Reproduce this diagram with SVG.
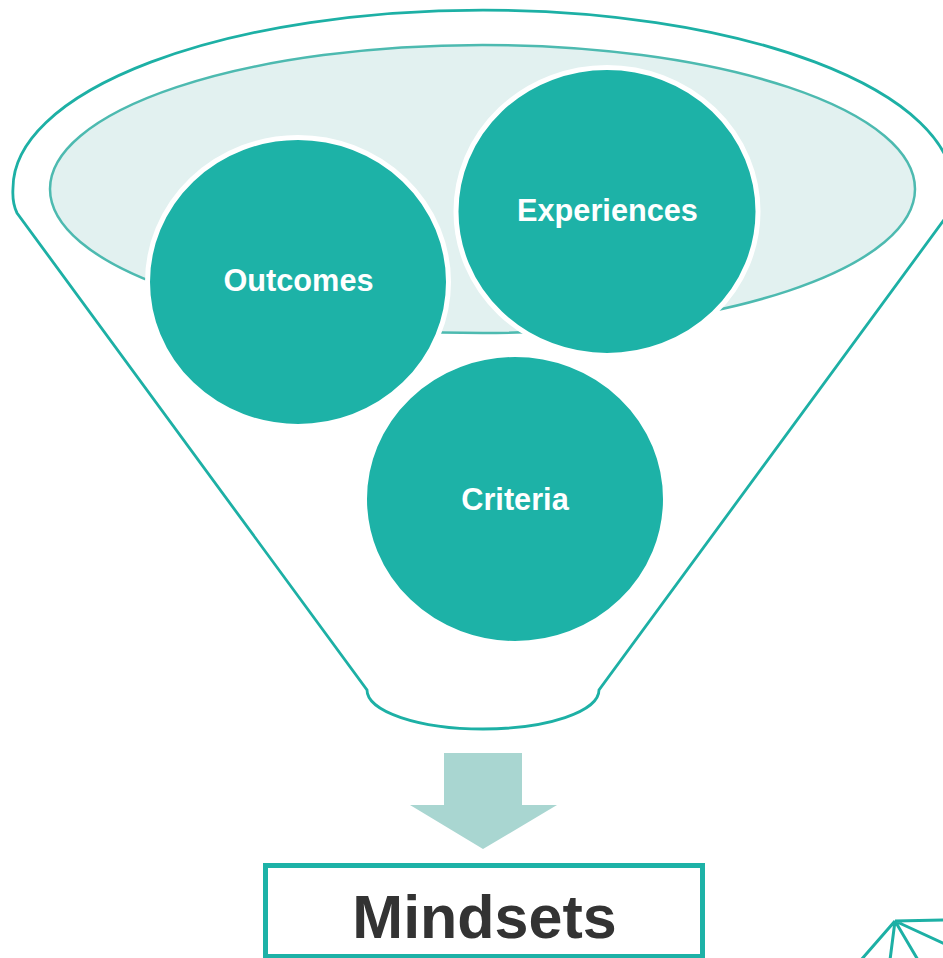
<svg xmlns="http://www.w3.org/2000/svg" width="943" height="958" viewBox="0 0 943 958">
<style>
.funnel{fill:none;stroke:#1DB0A5;stroke-width:2.8}
.inner{fill:#E2F1F0;stroke:#4DBAB0;stroke-width:2.5}
.ball{fill:#1DB2A7;stroke:#FFFFFF;stroke-width:5}
.lbl{font-family:"Liberation Sans",Arial,sans-serif;font-weight:bold;font-size:30.7px;fill:#FFFFFF;text-anchor:middle}
.deco{stroke:#1DB0A5;stroke-width:3;fill:none}
</style>
<rect width="943" height="958" fill="#FFFFFF"/>
<g id="funnel">
<path class="funnel" d="M 17 213 Q 12 203 13 188 A 470 178 0 0 1 953 188 Q 954 203 949 213 L 599 690 A 116 39 0 0 1 367 690 Z"/>
<ellipse class="inner" cx="482.5" cy="189" rx="432.5" ry="144"/>
</g>
<g id="outcomes">
<ellipse class="ball" cx="298" cy="282" rx="150.5" ry="144.5"/>
<text class="lbl" x="298.5" y="291">Outcomes</text>
</g>
<g id="experiences">
<ellipse class="ball" cx="607" cy="211.5" rx="151" ry="144"/>
<text class="lbl" x="607.5" y="221">Experiences</text>
</g>
<g id="criteria">
<ellipse class="ball" cx="515" cy="499" rx="150.5" ry="144.5"/>
<text class="lbl" x="515" y="510">Criteria</text>
</g>
<g id="connectors">
<polygon points="444,753 522,753 522,805 557,805 483,849 410,805 444,805" fill="#A9D6D1"/>
</g>
<g id="mindsets">
<rect x="265.5" y="865.5" width="437" height="91" fill="#FFFFFF" stroke="#1DB2A7" stroke-width="5"/>
<text x="484.5" y="938" font-family="'Liberation Sans',Arial,sans-serif" font-weight="bold" font-size="61" fill="#333333" text-anchor="middle">Mindsets</text>
</g>
<g id="decoration">
<path class="deco" d="M 895 921 L 945 920 M 895 921 L 945 944 M 895 921 L 918 960 M 895 921 L 890 960 M 895 921 L 861 960"/>
</g>
</svg>
